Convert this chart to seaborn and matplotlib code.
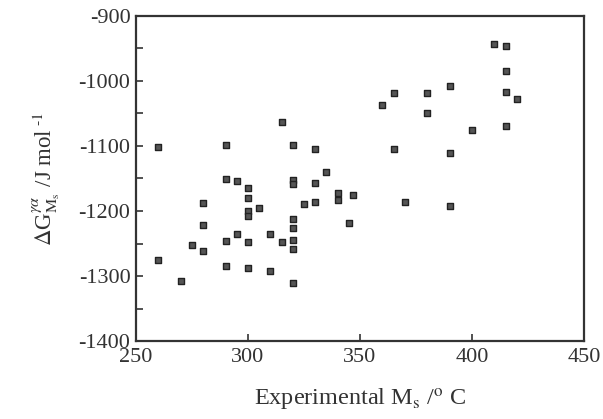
"""
Scatter of calculated driving force at Ms against experimental Ms.
"""

import numpy as np
import pandas as pd
import matplotlib

matplotlib.use("Agg")
import matplotlib.pyplot as plt
import seaborn as sns

# experimental Ms (deg C)
ms_exp = [
    260, 260, 270, 275, 280, 280, 280,
    290, 290, 290, 290, 295, 295,
    300, 300, 300, 300, 300, 300, 305,
    310, 310, 315, 315,
    320, 320, 320, 320, 320, 320, 320, 320,
    325, 330, 330, 330, 335, 340, 340, 345, 347,
    360, 365, 365, 370, 380, 380,
    390, 390, 390, 400, 410,
    415, 415, 415, 415, 420,
]

# driving force at Ms (J/mol)
dg_ms = [
    -1102, -1275, -1307, -1252, -1187, -1222, -1262,
    -1099, -1151, -1246, -1285, -1154, -1235,
    -1164, -1180, -1200, -1207, -1248, -1287, -1196,
    -1235, -1293, -1063, -1248,
    -1099, -1152, -1159, -1212, -1226, -1245, -1258, -1310,
    -1189, -1105, -1157, -1186, -1140, -1172, -1183, -1219, -1176,
    -1037, -1018, -1104, -1186, -1018, -1050,
    -1008, -1111, -1192, -1075, -943,
    -946, -985, -1017, -1069, -1027,
]

df = pd.DataFrame({"ms": ms_exp, "dg": dg_ms})


def main():
    sns.set_style("ticks")
    plt.rcParams["font.family"] = ["Liberation Serif", "DejaVu Serif"]
    plt.rcParams["mathtext.fontset"] = "stix"
    plt.rcParams["axes.unicode_minus"] = False

    fig = plt.figure(figsize=(6.03, 4.19), dpi=100)
    ax = fig.add_axes([0.2255, 0.186, 0.743, 0.776])

    sns.scatterplot(
        data=df,
        x="ms",
        y="dg",
        marker="s",
        s=14,
        color="#555555",
        edgecolor="#222222",
        linewidth=1.0,
        ax=ax,
    )

    ax.set_xlim(250, 450)
    ax.set_ylim(-1400, -900)
    ax.set_xticks([250, 300, 350, 400, 450])
    ax.set_yticks(np.arange(-1400, -899, 100))
    ax.set_yticks(np.arange(-1350, -900, 100), minor=True)

    ax.tick_params(axis="both", which="both", direction="in", labelsize=16,
                   color="#333333", width=1.2)
    ax.tick_params(axis="both", which="major", length=5, pad=4)
    ax.tick_params(axis="y", which="minor", length=5)
    ax.tick_params(axis="x", pad=5)

    for side in ax.spines.values():
        side.set_visible(True)
        side.set_linewidth(1.6)
        side.set_color("#333333")

    ax.set_xlabel(r"Experimental M$_{\rm s}$ /$^{\rm o}$ C", fontsize=17.5,
                  labelpad=14, color="#333333")
    ax.set_ylabel(r"$\Delta$G$^{\gamma\alpha}_{\rm M_s}$ /J mol$^{\ \text{-1}}$",
                  fontsize=16.5, labelpad=12, color="#333333")
    for lab in ax.get_xticklabels() + ax.get_yticklabels():
        lab.set_color("#333333")

    fig.savefig("out.png", dpi=100)


if __name__ == "__main__":
    main()
